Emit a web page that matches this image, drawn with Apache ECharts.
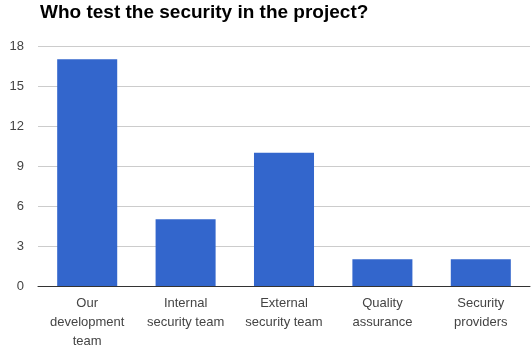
<!DOCTYPE html>
<html>
<head>
<meta charset="utf-8">
<script src="https://cdn.jsdelivr.net/npm/echarts@6/dist/echarts.min.js"></script>
<style>
  html, body { margin: 0; padding: 0; background: #fff; }
  #chart { width: 531px; height: 348px; }
</style>
</head>
<body>
<div id="chart"></div>
<script>
// data
let categories = ['Our\ndevelopment\nteam', 'Internal\nsecurity team', 'External\nsecurity team', 'Quality\nassurance', 'Security\nproviders']
let values = [17, 5, 10, 2, 2]
let yTicks = [0, 3, 6, 9, 12, 15, 18]

let myChart = echarts.init(document.getElementById('chart'))
let option = {
    animation: false,
    title: {
        text: 'Who test the security in the project?',
        left: 40,
        top: 3,
        padding: 0,
        textStyle: {
            fontFamily: 'Liberation Sans',
            fontWeight: 'bold',
            fontSize: 19,
            color: '#000'
        }
    },
    grid: {
        left: 38,
        right: 1,
        top: 46,
        bottom: 62,
        outerBoundsMode: 'none'
    },
    xAxis: {
        type: 'category',
        data: categories,
        axisTick: {show: false},
        axisLine: {lineStyle: {color: '#333', width: 1}},
        axisLabel: {
            color: '#444',
            fontFamily: 'Liberation Sans',
            fontSize: 13,
            lineHeight: 19,
            margin: 8,
            interval: 0
        }
    },
    yAxis: {
        type: 'value',
        min: yTicks[0],
        max: yTicks[yTicks.length - 1],
        interval: 3,
        axisLine: {show: false},
        axisTick: {show: false},
        splitLine: {lineStyle: {color: '#ccc'}},
        axisLabel: {
            color: '#444',
            fontFamily: 'Liberation Sans',
            fontSize: 13,
            margin: 14
        }
    },
    series: [{
        type: 'bar',
        data: values,
        barWidth: '61%',
        itemStyle: {color: '#3366cc'}
    }]
}
myChart.setOption(option)
</script>
</body>
</html>
